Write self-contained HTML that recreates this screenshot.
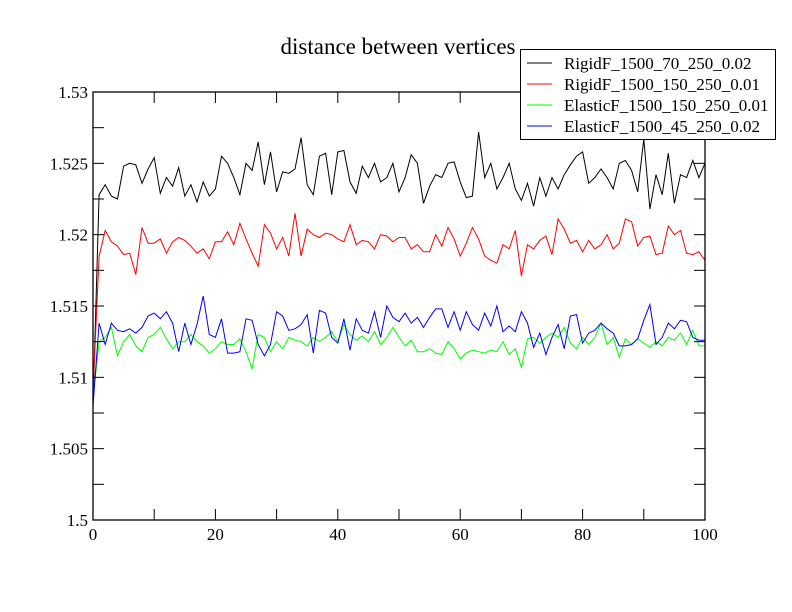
<!DOCTYPE html>
<html><head><meta charset="utf-8"><style>
body{margin:0;background:#fff}
svg{display:block}
text{font-family:"Liberation Serif","DejaVu Serif",serif}
</style></head><body>
<svg id="chart" width="792" height="612" viewBox="0 0 792 612">
<rect width="792" height="612" fill="#fff"/>
<text x="398" y="54" text-anchor="middle" font-size="23" font-family="Liberation Serif, serif">distance between vertices</text>
<g id="series"></g>
<rect x="93" y="92" width="612" height="428" fill="none" stroke="#000" stroke-width="1.3"/>
<g id="axes"></g>
<g>
<rect x="520.5" y="49.5" width="255" height="90" fill="#fff" stroke="#000"/>
<g id="legend-entries"></g>
</g>
</svg>
<script>
const xValues = Array.from({length:101},(_, i)=>i);
const rigid70 = [1.508,1.5228,1.5235,1.5227,1.5225,1.5248,1.525,1.5249,1.5236,1.5246,1.5254,1.5229,1.524,1.5234,1.5247,1.5227,1.5235,1.5223,1.5237,1.5227,1.5232,1.5255,1.525,1.524,1.5228,1.525,1.5245,1.5265,1.5235,1.5258,1.523,1.5244,1.5243,1.5246,1.5268,1.5235,1.5228,1.5255,1.5257,1.5228,1.5258,1.5259,1.5237,1.5229,1.5248,1.524,1.525,1.5237,1.524,1.525,1.523,1.524,1.5256,1.525,1.5222,1.5234,1.5242,1.524,1.525,1.5251,1.5237,1.5226,1.5227,1.5272,1.524,1.525,1.5232,1.524,1.525,1.5232,1.5224,1.5236,1.522,1.524,1.5227,1.524,1.5232,1.5242,1.5249,1.5255,1.5258,1.5236,1.524,1.5246,1.524,1.5232,1.525,1.5252,1.5245,1.523,1.5267,1.5218,1.5242,1.5228,1.5257,1.5222,1.5242,1.524,1.5252,1.524,1.525];
const rigid150 = [1.509,1.5185,1.5203,1.5195,1.5192,1.5186,1.5187,1.5172,1.5205,1.5194,1.5194,1.5197,1.5187,1.5195,1.5198,1.5196,1.5192,1.5187,1.519,1.5183,1.5195,1.5195,1.5202,1.5193,1.5208,1.5197,1.5187,1.5178,1.5207,1.5201,1.519,1.5198,1.5185,1.5215,1.5185,1.5204,1.52,1.5198,1.5201,1.52,1.5197,1.5195,1.5207,1.5193,1.5196,1.5195,1.519,1.52,1.5199,1.5195,1.5198,1.5198,1.519,1.5193,1.5188,1.5188,1.52,1.5192,1.5205,1.5197,1.5185,1.5194,1.5205,1.5197,1.5185,1.5182,1.518,1.5193,1.519,1.5203,1.5171,1.5193,1.519,1.5196,1.5199,1.5186,1.5211,1.5204,1.5194,1.5196,1.5188,1.5196,1.519,1.5193,1.52,1.519,1.5194,1.5211,1.5209,1.5192,1.5198,1.5199,1.5186,1.5187,1.5206,1.52,1.5203,1.5187,1.5186,1.5188,1.5182];
const elastic150 = [1.5085,1.5125,1.5128,1.5135,1.5115,1.5125,1.513,1.5122,1.5118,1.5128,1.513,1.5135,1.5127,1.512,1.5125,1.5125,1.513,1.5125,1.5122,1.5117,1.512,1.5125,1.5123,1.5123,1.5127,1.5118,1.5106,1.513,1.5128,1.5118,1.5125,1.512,1.5128,1.5126,1.5125,1.5122,1.5128,1.5125,1.5128,1.5132,1.5125,1.5137,1.513,1.5126,1.5129,1.5125,1.5132,1.5123,1.5128,1.5135,1.5128,1.5122,1.5126,1.5118,1.5118,1.512,1.5117,1.5116,1.5125,1.512,1.5113,1.5117,1.5119,1.5118,1.5117,1.5119,1.5118,1.5125,1.5116,1.512,1.5107,1.5127,1.5128,1.5124,1.5128,1.5131,1.5128,1.5135,1.5124,1.512,1.5128,1.5123,1.5128,1.5138,1.5123,1.5128,1.5114,1.5127,1.5123,1.5127,1.5124,1.5121,1.5125,1.5122,1.5128,1.5126,1.5131,1.5123,1.5133,1.5122,1.5122];
const elastic45 = [1.508,1.5138,1.5123,1.5138,1.5133,1.5132,1.5134,1.5131,1.5135,1.5143,1.5145,1.5141,1.5146,1.5138,1.5118,1.5138,1.5123,1.5137,1.5157,1.513,1.5128,1.5141,1.5117,1.5117,1.5118,1.5141,1.514,1.5123,1.5115,1.5123,1.5146,1.5143,1.5133,1.5134,1.5137,1.5144,1.5117,1.5147,1.5145,1.5128,1.5124,1.5141,1.5119,1.5141,1.5133,1.5131,1.5146,1.5128,1.515,1.5142,1.5139,1.5145,1.5138,1.5142,1.5135,1.5142,1.5148,1.5148,1.5135,1.5146,1.5133,1.5146,1.5137,1.5133,1.5145,1.5136,1.515,1.5132,1.5136,1.5132,1.5146,1.5138,1.5121,1.5131,1.5116,1.5128,1.5137,1.512,1.5143,1.5144,1.5124,1.5131,1.5133,1.5138,1.5134,1.5131,1.5122,1.5122,1.5123,1.5127,1.514,1.5151,1.5123,1.5128,1.5138,1.5134,1.514,1.5139,1.5128,1.5126,1.5126];
const seriesNames = ["RigidF_1500_70_250_0.02","RigidF_1500_150_250_0.01","ElasticF_1500_150_250_0.01","ElasticF_1500_45_250_0.02"];
const xTicks = [0,20,40,60,80,100];
const yTicks = [1.5,1.505,1.51,1.515,1.52,1.525,1.53];
const yTickLabels = ["1.5","1.505","1.51","1.515","1.52","1.525","1.53"];

const NS="http://www.w3.org/2000/svg";
const X0=93,X1=705,Y0=520,Y1=92;
const FONT="Liberation Serif, serif";
function sx(v){return X0+(v-0)/(100-0)*(X1-X0);}
function sy(v){return Y0-(v-1.5)/(1.53-1.5)*(Y0-Y1);}
function mk(tag,attrs,parent){const e=document.createElementNS(NS,tag);for(const k in attrs)e.setAttribute(k,attrs[k]);parent.appendChild(e);return e;}

const colors=["#000","#f00","#0f0","#00f"];
const allSeries=[rigid70,rigid150,elastic150,elastic45];
const sg=document.getElementById('series');
allSeries.forEach((s,i)=>{
  const p=mk('polyline',{points:s.map((v,j)=>sx(xValues[j]).toFixed(1)+','+sy(v).toFixed(1)).join(' '),fill:'none',stroke:colors[i],'stroke-width':1},sg);
  
  
});

const ax=document.getElementById('axes');
for(let v=0;v<=100;v+=10){
  const x=sx(v);
  const t1=mk('line',{x1:x,y1:Y0,x2:x,y2:Y0-11,stroke:'#000'},ax);
  
  
  const t2=mk('line',{x1:x,y1:Y1,x2:x,y2:Y1+11,stroke:'#000'},ax);
  
  
}
xTicks.forEach(v=>{
  const t=mk('text',{x:sx(v),y:Y0+20,'text-anchor':'middle','font-size':17,'font-family':FONT},ax);
  t.textContent=v;
  
  
});
for(let k=0;k<=12;k++){
  const y=sy(1.5+k*0.0025);
  const t1=mk('line',{x1:X0,y1:y,x2:X0+11,y2:y,stroke:'#000'},ax);
  
  
  const t2=mk('line',{x1:X1,y1:y,x2:X1-11,y2:y,stroke:'#000'},ax);
  
  
}
yTicks.forEach((v,i)=>{
  const t=mk('text',{x:X0-5,y:sy(v)+6,'text-anchor':'end','font-size':17,'font-family':FONT},ax);
  t.textContent=yTickLabels[i];
  
  
});

const lg=document.getElementById('legend-entries');
seriesNames.forEach((n,i)=>{
  const y=63+i*21;
  const g=mk('g',{},lg);
  
  
  mk('line',{x1:527,y1:y,x2:552,y2:y,stroke:colors[i]},g);
  const t=mk('text',{x:564,y:y+6,'font-size':17,'font-family':FONT},g);
  t.textContent=n;
});
</script>
</body></html>
